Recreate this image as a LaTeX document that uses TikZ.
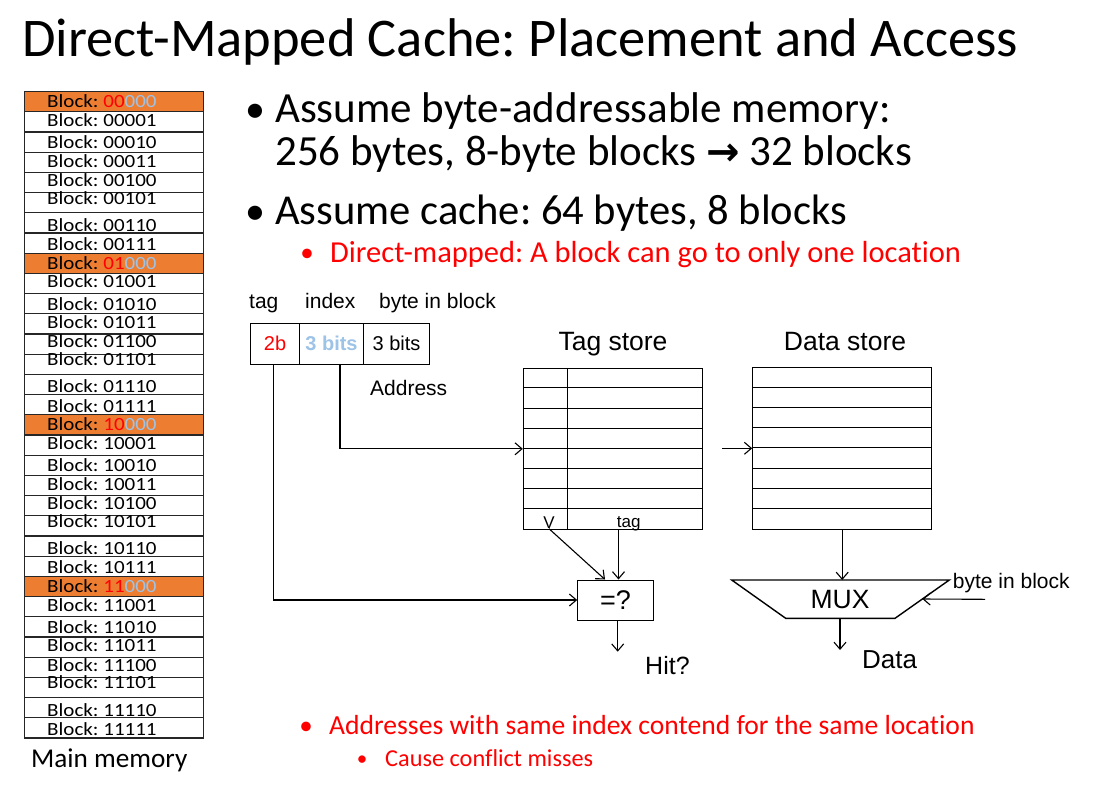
\documentclass[tikz,border=0pt]{standalone}
\usepackage{fontspec}
\setmainfont{Carlito}[Ligatures=NoCommon]
\newfontfamily\arial{Liberation Sans}
\newfontfamily\dejavu{DejaVu Sans}
\usetikzlibrary{arrows.meta}
\definecolor{memorange}{HTML}{ED7D31}
\definecolor{idxblue}{HTML}{9DC3E6}
\definecolor{alert}{HTML}{FF0000}
\newcommand\fsz[1]{\fontsize{#1}{#1}\selectfont}
\frenchspacing

\begin{document}
\begin{tikzpicture}[x=1pt,y=-1pt,
  txt/.style={inner sep=0pt, anchor=base west},
  ctxt/.style={inner sep=0pt, anchor=base},
  memrow/.style={draw=black!85, line width=1.2pt, minimum width=179pt,
    minimum height=20.2pt, inner sep=0pt},
  blk/.style={inner sep=0pt, anchor=base west, font=\fsz{18.6}},
  cell/.style={draw, line width=1pt, minimum height=40.7pt, inner sep=0pt,
    font=\arial\fsz{20}},
  store/.style={draw, line width=1pt, minimum width=179pt, inner sep=0pt},
  conn/.style={line width=1.1pt,
    -{Straight Barb[length=7pt,width=12pt,line width=1.1pt]}},
  plain/.style={line width=1.1pt}]
\useasboundingbox[fill=white] (0,0) rectangle (1102,785);

% title
\node[txt, font=\fsz{54.5}] (title) at (22,56) {Direct-Mapped Cache: Placement and Access};

% main memory column: 32 blocks, the first of each group of 8 highlighted
\foreach \hi/\lo [count=\n from 0] in {
  00/000,00/001,00/010,00/011,00/100,00/101,00/110,00/111,
  01/000,01/001,01/010,01/011,01/100,01/101,01/110,01/111,
  10/000,10/001,10/010,10/011,10/100,10/101,10/110,10/111,
  11/000,11/001,11/010,11/011,11/100,11/101,11/110,11/111} {
  \pgfmathsetmacro\rtop{91.5+20.2*\n}
  \pgfmathtruncatemacro\m{mod(\n,8)}
  \pgfmathsetmacro\off{{16,14.5,16.5,15,14,11.5,18.5,17.5}[\m]}
  \ifnum\m=0
    \node[memrow, fill=memorange] (row\n) at (113.8,\rtop+10.1) {};
    \node[blk] (blk\n) at (47,\rtop+\off)
      {\scalebox{1.13}[1]{Block: \textcolor{alert}{\hi}\textcolor{idxblue}{\lo}}};
  \else
    \node[memrow] (row\n) at (113.8,\rtop+10.1) {};
    \node[blk] (blk\n) at (47,\rtop+\off) {\scalebox{1.13}[1]{Block: \hi\lo}};
  \fi
}
\node[txt, font=\fsz{27.2}] (mainmem) at (31,767) {Main memory};

% bullet list
\node[ctxt, font=\fsz{40}] (b1) at (255,122) {•};
\node[txt, font=\fsz{43}] (t1) at (275,122) {Assume byte-addressable memory:};
\node[txt, font=\fsz{43}] (t2) at (275,165) {256 bytes, 8-byte blocks {\dejavu\bfseries\fsz{40}→} 32 blocks};
\node[ctxt, font=\fsz{40}] (b2) at (255,224) {•};
\node[txt, font=\fsz{42.6}] (t3) at (275,224) {Assume cache: 64 bytes, 8 blocks};
\node[ctxt, font=\fsz{27}, text=alert] (b3) at (307,261) {•};
\node[txt, font=\fsz{30.5}, text=alert] (t4) at (330,262) {Direct-mapped: A block can go to only one location};

% address fields
\node[txt, font=\arial\fsz{21}] (ftag) at (249,308.3) {tag};
\node[txt, font=\arial\fsz{21}] (fidx) at (305,308.3) {index};
\node[txt, font=\arial\fsz{21}] (fbib) at (379,308.3) {byte in block};
\node[cell, minimum width=48.6pt, text=alert] (tagf) at (275,343.7) {2b};
\node[cell, minimum width=64.4pt, text=idxblue, font=\arial\bfseries\fsz{20}] (idxf) at (331.5,343.7) {3 bits};
\node[cell, minimum width=65.6pt] (offf) at (396.5,343.7) {3 bits};
\node[txt, font=\arial\fsz{21}] (addr) at (370,395) {Address};

% tag store
\node[ctxt, font=\arial\fsz{26.5}] (tslbl) at (613,350) {Tag store};
\node[store, minimum height=161pt] (tagstore) at (612.8,448.8) {};
\foreach \k in {1,...,7}
  \draw[plain] ([yshift={-20.125pt*\k}]tagstore.north west) -- ([yshift={-20.125pt*\k}]tagstore.north east);
\draw[plain] ([xshift=-45.1pt]tagstore.north) -- ([xshift=-45.1pt]tagstore.south);
\node[ctxt, font=\arial\fsz{17}] (vlbl) at (549,528.5) {V};
\node[ctxt, font=\arial\fsz{17}] (tglbl) at (628.7,527) {tag};

% data store
\node[ctxt, font=\arial\fsz{26.5}] (dslbl) at (845,350) {Data store};
\node[store, minimum height=162pt] (datastore) at (842.2,448.3) {};
\foreach \k in {1,...,7}
  \draw[plain] ([yshift={-20.25pt*\k}]datastore.north west) -- ([yshift={-20.25pt*\k}]datastore.north east);

% comparator
\node[draw, line width=1pt, minimum width=75.6pt, minimum height=40pt, inner sep=0pt,
  font=\arial\fsz{27}] (eq) at (615.5,600) {=?};
\node[txt, font=\arial\fsz{25}] (hit) at (645,674) {Hit?};

% multiplexer
\coordinate (muxTL) at (731.7,580);
\coordinate (muxTR) at (949.3,580);
\coordinate (muxBR) at (895,618.3);
\coordinate (muxBL) at (785.7,618.3);
\draw[line width=1.4pt] (muxTL) -- (muxTR) -- (muxBR) -- (muxBL) -- cycle;
\node[inner sep=0pt, font=\arial\fsz{26.5}] (mux) at (840,600) {MUX};
\node[txt, font=\arial\fsz{26}] (datalbl) at (862,668.3) {Data};
\node[txt, font=\arial\fsz{21}] (bibl) at (952.7,588.3) {byte in block};

% connectors
\draw[conn] ([xshift=-1.7pt]tagf.south) |- (eq.west);
\draw[conn] ([xshift=8.5pt]idxf.south) |- (tagstore.west);
\coordinate (dsin) at (722,448.3);
\draw[conn] (dsin) -- (datastore.west);
\draw[conn] (vlbl.south) -- ([xshift=-10.5pt]eq.north);
\coordinate (tagtap) at ([xshift=3pt]eq.north);
\draw[conn] (tagtap |- tagstore.south) -- (tagtap);
\coordinate (hitend) at (617.7,651.7);
\draw[conn] (hitend |- eq.south) -- (hitend);
\draw[conn] (datastore.south) -- (datastore.south |- muxTL);
\coordinate (dataend) at (840,650);
\draw[conn] (dataend |- muxBL) -- (dataend);
\coordinate (bistart) at (985,599.3);
\coordinate (biend) at (922.4,599);
\draw[conn] (bistart) -- (biend);

% closing notes
\node[ctxt, font=\fsz{27}, text=alert] (b4) at (306,734) {•};
\node[txt, font=\fsz{27.6}, text=alert] (t5) at (329,734) {Addresses with same index contend for the same location};
\node[ctxt, font=\fsz{21}, text=alert] (b5) at (362,765) {•};
\node[txt, font=\fsz{24.3}, text=alert] (t6) at (385,766) {Cause conflict misses};
\end{tikzpicture}
\end{document}
